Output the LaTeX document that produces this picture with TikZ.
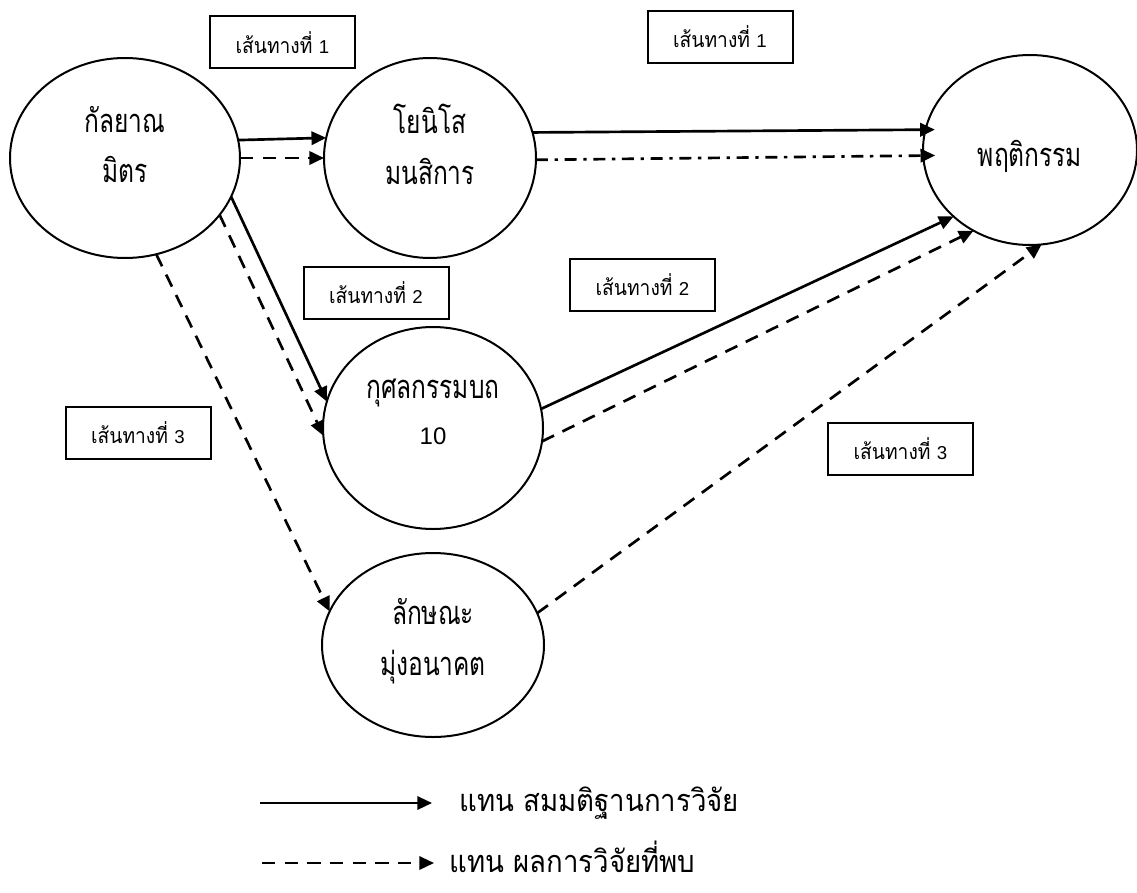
\documentclass[tikz,border=0pt]{standalone}
\usepackage{fontspec}
\newfontfamily\thai[Script=Thai,FakeStretch=0.75]{Loma}
\newfontfamily\thaib[Script=Thai,FakeStretch=0.9]{Loma}
\newfontfamily\lat{Liberation Sans}
\usetikzlibrary{shapes.geometric,arrows.meta}
\begin{document}
\begin{tikzpicture}[x=0.75pt,y=-0.75pt,
  bubble/.style={ellipse,draw,line width=1.5pt,inner sep=0pt,outer sep=0pt},
  txt/.style={font=\thai\fontsize{24.5}{38}\selectfont,align=center,inner sep=0pt},
  pathbox/.style={draw,line width=1.5pt,inner sep=0pt,minimum height=39pt,minimum width=108.75pt,font=\thaib\fontsize{16}{18}\selectfont},
  conn/.style={line width=2pt,-{Triangle[length=11pt,width=10pt]}},
  dsh/.style={conn,dash pattern=on 10pt off 7pt},
  dshdot/.style={conn,dash pattern=on 9pt off 5pt on 2.5pt off 5pt},
  legtxt/.style={font=\thaib\fontsize{23}{26}\selectfont,inner sep=0pt,anchor=west},
]
\newcommand\dg[1]{{\lat\fontsize{14}{16}\selectfont #1}}
\useasboundingbox (0,0) rectangle (1137,892);
\fill[white] (0,0) rectangle (1137,892);

% ellipses
\node[bubble,minimum width=172.5pt,minimum height=150pt,
  label={[txt,name=At,yshift=10pt]center:กัลยาณ\\มิตร}] (A) at (125,158) {};
\node[bubble,minimum width=159pt,minimum height=150pt,
  label={[txt,name=Bt,yshift=10pt]center:โยนิโส\\มนสิการ}] (B) at (430,158) {};
\node[bubble,minimum width=160.5pt,minimum height=142.5pt,
  label={[txt,name=Ct,yshift=-5pt]center:พฤติกรรม}] (C) at (1030,150) {};
\node[bubble,minimum width=165pt,minimum height=151.5pt,
  label={[txt,name=Dt,yshift=12pt,font=\thai\fontsize{24.5}{35}\selectfont]center:กุศลกรรมบถ\\{\lat\fontsize{18}{20}\selectfont 10}}] (D) at (433,428) {};
\node[bubble,minimum width=166.5pt,minimum height=138pt,
  label={[txt,name=Et,yshift=3pt]center:ลักษณะ\\มุ่งอนาคต}] (E) at (433,645) {};

% path labels
\node[pathbox] (L1a) at (282.5,42.5) {เส้นทางที่ \dg{1}};
\node[pathbox] (L1b) at (720,37) {เส้นทางที่ \dg{1}};
\node[pathbox] (L2a) at (376,292.5) {เส้นทางที่ \dg{2}};
\node[pathbox] (L2b) at (642.5,285) {เส้นทางที่ \dg{2}};
\node[pathbox] (L3a) at (138,433) {เส้นทางที่ \dg{3}};
\node[pathbox] (L3b) at (900.5,449) {เส้นทางที่ \dg{3}};

% connectors
\draw[conn] (A.9.5) -- (B.169.6);
\draw[dsh] (A.east) -- (B.west);
\draw[conn,shorten >=-7pt] (B.14.8) -- (C.169.7);
\draw[dshdot,shorten >=-9pt] (B.-1) -- (C.183.6);
\draw[conn] (A.-20.6) -- (D.166.7);
\draw[dsh] (A.-31) -- (D.184.8);
\draw[dsh] (A.-72) -- (E.162.9);
\draw[conn] (D.10.8) -- (C.221.8);
\draw[dsh] (D.-7.7) -- (C.235.1);
\draw[dsh] (E.17.3) -- (C.277.6);

% legend
\fill[white] (239,767) rectangle (818,892);
\coordinate (s1) at (260,803);
\coordinate (e1) at (432,803);
\coordinate (s2) at (262,863);
\coordinate (e2) at (434,863);
\draw[conn,line width=1.7pt] (s1) -- (e1);
\draw[dsh,line width=1.7pt] (s2) -- (e2);
\node[legtxt] (T1) at (459,803) {แทน สมมติฐานการวิจัย};
\node[legtxt] (T2) at (449,857) {แทน ผลการวิจัยที่พบ};
\end{tikzpicture}
\end{document}
